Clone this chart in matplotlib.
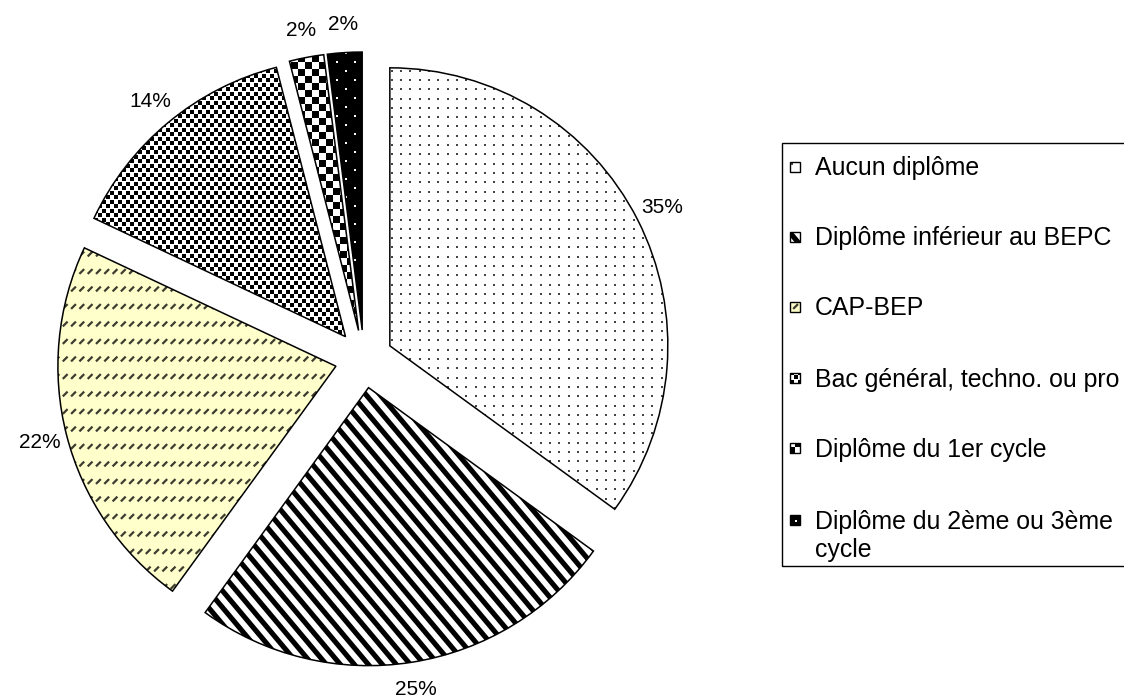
import numpy as np
import matplotlib.pyplot as plt
from matplotlib.patches import Wedge, Rectangle
from matplotlib.collections import LineCollection

categories = ["Aucun diplôme", "Diplôme inférieur au BEPC", "CAP-BEP",
              "Bac général, techno. ou pro", "Diplôme du 1er cycle",
              "Diplôme du 2ème ou 3ème\ncycle"]
shares = [35, 25, 22, 14, 2, 2]
faces = ["white", "white", "#ffffcc", "white", "white", "black"]

plt.rcParams['font.family'] = ['Liberation Sans', 'DejaVu Sans']

W, H = 1124, 697
R_PX = 278.0          # pie radius in pixels
CX, CY = 364.0, 338.0  # pie centre, pixels from bottom left
PX = 1 / R_PX         # one pixel in data units

fig = plt.figure(figsize=(W / 100, H / 100), dpi=100)
ax = fig.add_axes([0, 0, 1, 1])


def lattice(box, dx, dy, shift):
    x0, x1, y0, y1 = box
    xs, ys = [], []
    for j in range(int(np.floor(y0 / dy)) - 1, int(np.ceil(y1 / dy)) + 2):
        off = shift if j % 2 else 0
        for i in range(int(np.floor(x0 / dx)) - 2, int(np.ceil(x1 / dx)) + 2):
            xs.append(i * dx + off)
            ys.append(j * dy)
    return np.array(xs), np.array(ys)


def add_points(clip, box, dx, dy, shift, size_px, color):
    xs, ys = lattice(box, dx * PX, dy * PX, shift * PX)
    sc = ax.scatter(xs, ys, s=(size_px * 0.72) ** 2, c=color, marker='s',
                    linewidths=0, zorder=3)
    sc.set_clip_path(clip)


def add_stripes(clip, box, period_px, angle, lw, color):
    x0, x1, y0, y1 = box
    a = np.radians(angle)
    c = np.cos(a) / np.sin(a)
    hp = period_px * PX
    lo = x0 - max(y0 * c, y1 * c)
    hi = x1 - min(y0 * c, y1 * c)
    segs = []
    for k in range(int(np.floor(lo / hp)) - 1, int(np.ceil(hi / hp)) + 2):
        xk = k * hp
        segs.append([(xk + (y0 - 0.1) * c, y0 - 0.1), (xk + (y1 + 0.1) * c, y1 + 0.1)])
    lc = LineCollection(segs, colors=color, linewidths=lw, zorder=3)
    ax.add_collection(lc)
    lc.set_clip_path(clip)


def add_dashes(clip, box, dx, dy, half, lw, color):
    xs, ys = lattice(box, dx * PX, dy * PX, 0)
    h = half * PX
    segs = [[(x - h, y - h), (x + h, y + h)] for x, y in zip(xs, ys)]
    lc = LineCollection(segs, colors=color, linewidths=lw, zorder=3)
    ax.add_collection(lc)
    lc.set_clip_path(clip)


def pattern(k, clip, box):
    if k == 0:
        add_points(clip, box, 9.3, 9.3, 0, 1.8, "#444444")
    elif k == 1:
        add_stripes(clip, box, 14, -50, 3.7, "black")
    elif k == 2:
        add_dashes(clip, box, 8.3, 17.5, 2.4, 1.6, "#3c3c30")
    elif k == 3:
        add_points(clip, box, 8, 4.5, 4, 3.5, "black")
    elif k == 4:
        add_points(clip, box, 14, 7, 7, 7, "black")
    else:
        add_points(clip, box, 18, 9, 9, 2.0, "white")


wedges, _, pcts = ax.pie(shares, explode=[29 * PX] * len(shares), startangle=90,
                         counterclock=False, colors=faces, radius=1,
                         autopct='%1.0f%%', pctdistance=1.1,
                         wedgeprops=dict(edgecolor='none'),
                         textprops=dict(fontsize=15, color='black'))

for k, w in enumerate(wedges):
    cx, cy = w.center
    pattern(k, w, (cx - 1, cx + 1, cy - 1, cy + 1))
    ax.add_patch(Wedge(w.center, w.r, w.theta1, w.theta2, fill=False,
                       edgecolor='black', linewidth=1.1, zorder=5))

ax.set_xlim(-CX * PX, (W - CX) * PX)
ax.set_ylim(-CY * PX, (H - CY) * PX)
ax.set_aspect('auto')
ax.axis('off')


def to_d(x, y_img):
    return (x - CX) * PX, (H - y_img - CY) * PX


# legend, drawn by hand
lx0, ly0 = to_d(782, 566)
lx1, ly1 = to_d(1140, 143)
ax.add_patch(Rectangle((lx0, ly0), lx1 - lx0, ly1 - ly0, fill=False,
                       edgecolor='black', linewidth=1.0, zorder=5, clip_on=False))

box_px = 10.0
rows = [166.7, 236.7, 306.7, 378, 448, 520]
for k, (name, yc) in enumerate(zip(categories, rows)):
    sx, sy = to_d(790.5, yc + box_px / 2)
    sq = Rectangle((sx, sy), box_px * PX, box_px * PX, facecolor=faces[k],
                   edgecolor='none', zorder=2)
    ax.add_patch(sq)
    pattern(k, sq, (sx, sx + box_px * PX, sy, sy + box_px * PX))
    ax.add_patch(Rectangle((sx, sy), box_px * PX, box_px * PX, fill=False,
                           edgecolor='black', linewidth=1.0, zorder=5))
    for n, line in enumerate(name.split("\n")):
        tx, ty = to_d(815, yc + 8.5 + 29 * n)
        ax.text(tx, ty, line, fontsize=17.9, ha='left', va='baseline')

fig.savefig('out.png', dpi=100)
